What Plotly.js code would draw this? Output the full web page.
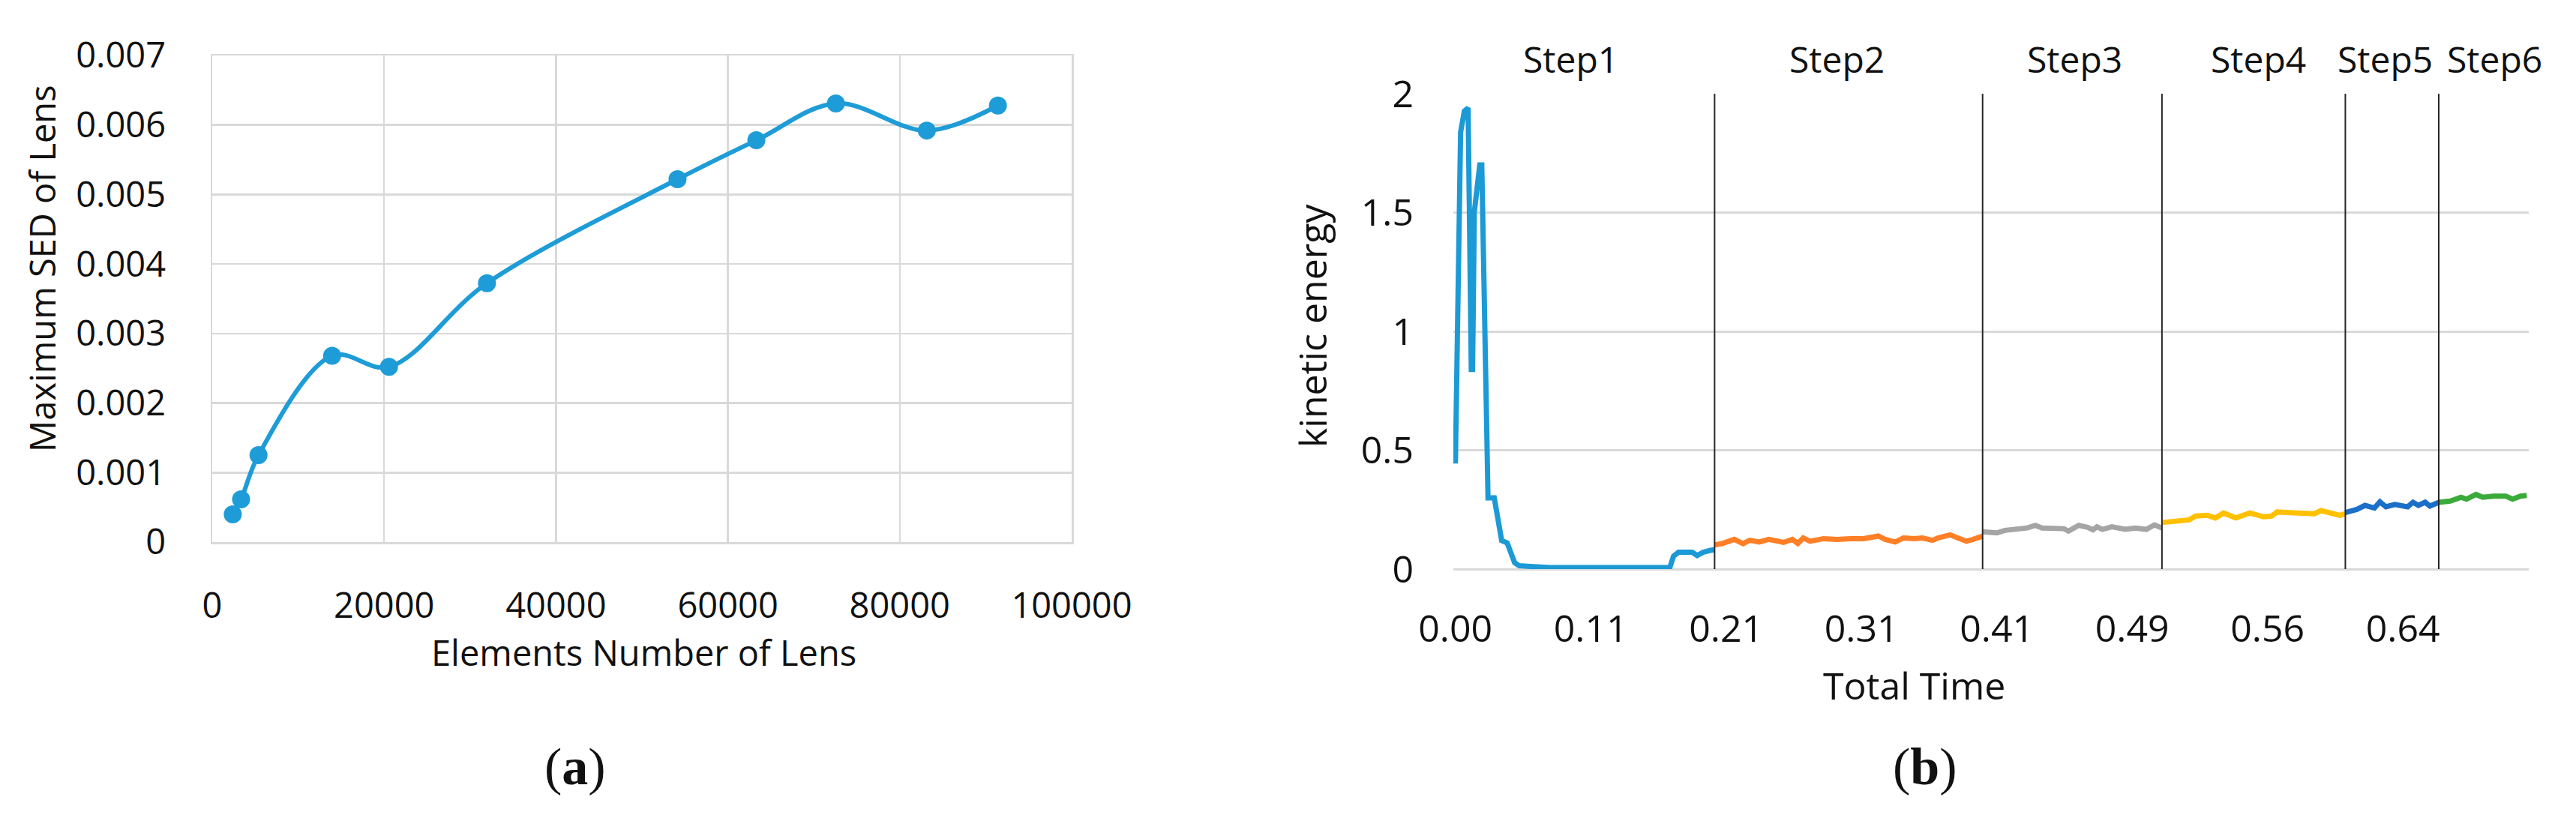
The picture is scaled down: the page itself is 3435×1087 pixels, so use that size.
<!DOCTYPE html>
<html>
<head>
<meta charset="utf-8">
<script src="https://cdn.plot.ly/plotly-3.0.1.min.js"></script>
<style>
html, body { margin: 0; padding: 0; background: #ffffff; }
#chart { width: 3435px; height: 1087px; }
</style>
</head>
<body>
<div id="chart"></div>
<script>
// ---------- Data: chart (a) ----------
const elementsNumber = [2389, 3357, 5384, 13950, 20567, 31970, 54141, 63312, 72563, 83147, 91421];
const maxSED = [0.00040, 0.000615, 0.00125, 0.00268, 0.00252, 0.003725, 0.00522, 0.00578, 0.00631, 0.00592, 0.00628];

// ---------- Data: chart (b) ----------
// x = category position (one tick label every 20 categories)
const timeLabels = ['0.00', '0.11', '0.21', '0.31', '0.41', '0.49', '0.56', '0.64'];
const stepNames = ['Step1', 'Step2', 'Step3', 'Step4', 'Step5', 'Step6'];

const step1Pos = [0, 0.77, 1.32, 1.88, 2.35, 2.54, 2.80, 3.60, 3.90, 4.82, 5.74, 6.84, 7.65, 8.75, 9.42, 11.99, 14.0, 31.68, 32.23, 32.97, 34.99, 35.72, 36.64, 37.56, 38.3];
const step1KE  = [0.444, 1.838, 1.927, 1.94, 0.84, 0.84, 1.503, 1.70, 1.70, 0.30, 0.30, 0.12, 0.11, 0.027, 0.014, 0.007, 0.006, 0.006, 0.054, 0.071, 0.071, 0.057, 0.071, 0.078, 0.082];

const step2Pos = [38.3, 39.4, 41.2, 42.5, 43.5, 44.9, 46.3, 48.5, 49.8, 50.6, 51.4, 52.4, 54.4, 56.4, 58.3, 60.3, 62.5, 63.5, 65.0, 66.2, 67.8, 69.0, 70.5, 71.3, 73.1, 74.5, 75.5, 76.5, 77.9];
const step2KE  = [0.102, 0.107, 0.125, 0.107, 0.121, 0.114, 0.125, 0.112, 0.125, 0.108, 0.131, 0.117, 0.128, 0.125, 0.128, 0.128, 0.139, 0.125, 0.114, 0.131, 0.128, 0.131, 0.121, 0.131, 0.144, 0.128, 0.117, 0.125, 0.139];

const step3Pos = [77.9, 80.0, 81.2, 83.1, 84.5, 85.7, 86.7, 89.9, 90.6, 92.1, 93.4, 94.2, 94.8, 95.6, 97.0, 99.0, 100.5, 102.1, 103.3, 104.4];
const step3KE  = [0.157, 0.152, 0.163, 0.170, 0.173, 0.184, 0.173, 0.170, 0.160, 0.184, 0.176, 0.165, 0.178, 0.167, 0.178, 0.167, 0.173, 0.167, 0.186, 0.173];

const step4Pos = [104.4, 106.4, 108.4, 109.4, 111.1, 112.3, 113.5, 115.3, 117.4, 119.4, 120.6, 121.4, 123.4, 126.9, 127.9, 129.3, 130.7, 131.5];
const step4KE  = [0.196, 0.202, 0.207, 0.223, 0.226, 0.215, 0.236, 0.215, 0.236, 0.220, 0.223, 0.240, 0.238, 0.233, 0.246, 0.238, 0.226, 0.233];

const step5Pos = [131.5, 133.2, 134.4, 135.8, 136.6, 137.5, 138.8, 140.7, 141.5, 142.3, 143.3, 144.0, 145.3];
const step5KE  = [0.238, 0.251, 0.268, 0.257, 0.283, 0.262, 0.272, 0.262, 0.281, 0.268, 0.281, 0.265, 0.281];

const step6Pos = [145.3, 147.0, 148.6, 149.4, 150.8, 151.8, 153.4, 155.2, 156.2, 157.4, 158.3];
const step6KE  = [0.281, 0.286, 0.302, 0.294, 0.314, 0.302, 0.307, 0.307, 0.294, 0.307, 0.310];

// ---------- Build ----------
const W = 3435, H = 1087;
const px = v => v / W;
const py = v => 1 - v / H;
const FONT = 'Open Sans, DejaVu Sans, sans-serif';
const SERIF = 'Liberation Serif, DejaVu Serif, serif';
const TXT = '#111111';
const GRID = '#D9D9D9';
const labelEvery = 20;
// pixel centres of the step captions above panel (b) (layout only)
const stepCaptionPx = [2094, 2449, 2766, 3011, 3180, 3326];

const stepPositions = [step1Pos, step2Pos, step3Pos, step4Pos, step5Pos, step6Pos];
const stepValues = [step1KE, step2KE, step3KE, step4KE, step5KE, step6KE];
const stepColors = ['#1C9AD6', '#FF7F27', '#A5A5A5', '#FFC000', '#1B6FC8', '#3AAA3A'];

const traces = [{
  x: elementsNumber, y: maxSED, type: 'scatter', mode: 'lines+markers',
  xaxis: 'x', yaxis: 'y',
  line: { color: '#1E9CD7', width: 6, shape: 'spline', smoothing: 1 },
  marker: { color: '#1E9CD7', size: 24 },
  showlegend: false, hoverinfo: 'skip'
}];

stepPositions.forEach((pos, i) => {
  traces.push({
    x: pos, y: stepValues[i], type: 'scatter', mode: 'lines',
    xaxis: 'x2', yaxis: 'y2',
    line: { color: stepColors[i], width: 7 },
    showlegend: false, hoverinfo: 'skip', name: stepNames[i]
  });
});

const shapes = stepPositions.slice(1).map(pos => ({
  type: 'line', xref: 'x2', yref: 'y2',
  x0: pos[0], x1: pos[0], y0: -0.01, y1: 2,
  line: { color: '#262626', width: 2 }, layer: 'above'
}));

const annotations = [
  { text: 'Maximum SED of Lens', x: px(56), y: py(358), textangle: -90, font: { size: 47 } },
  { text: 'Elements Number of Lens', x: px(858), y: py(870), font: { size: 47 } },
  { text: 'kinetic energy', x: px(1750), y: py(435), textangle: -90, font: { size: 50 } },
  { text: 'Total Time', x: px(2552), y: py(914), font: { size: 50 } },
  { text: '(<b>a</b>)', x: px(767), y: py(1022), font: { size: 70, family: SERIF } },
  { text: '(<b>b</b>)', x: px(2567), y: py(1022), font: { size: 70, family: SERIF } }
].map(a => Object.assign({ xref: 'paper', yref: 'paper', showarrow: false, xanchor: 'center', yanchor: 'middle' }, a,
  { font: Object.assign({ family: FONT, color: TXT }, a.font) }));

stepNames.forEach((name, i) => {
  annotations.push({
    text: name, xref: 'paper', yref: 'paper',
    x: px(stepCaptionPx[i]), y: py(78),
    showarrow: false, xanchor: 'center', yanchor: 'middle',
    font: { family: FONT, color: TXT, size: 48 }
  });
});

const layout = {
  width: W, height: H,
  margin: { l: 0, r: 0, t: 0, b: 0, pad: 0 },
  paper_bgcolor: '#ffffff', plot_bgcolor: '#ffffff',
  showlegend: false,
  font: { family: FONT, color: TXT },
  xaxis: {
    domain: [px(283), px(1429)], anchor: 'y',
    range: [0, 100000], dtick: 20000, tick0: 0, tickformat: 'd',
    showgrid: true, gridcolor: GRID, gridwidth: 2.5,
    showline: true, mirror: true, linecolor: GRID, linewidth: 2.5,
    zeroline: false, ticks: '', ticklabelstandoff: 42,
    tickfont: { size: 47, family: FONT, color: TXT }
  },
  yaxis: {
    domain: [py(723), py(74)], anchor: 'x',
    range: [0, 0.007], dtick: 0.001, tick0: 0,
    showgrid: true, gridcolor: GRID, gridwidth: 2.5,
    showline: true, mirror: true, linecolor: GRID, linewidth: 2.5,
    zeroline: false, ticks: '', ticklabelstandoff: 50,
    tickfont: { size: 47, family: FONT, color: TXT }
  },
  xaxis2: {
    domain: [px(1938), px(3372)], anchor: 'y2',
    range: [-0.3, 158.6],
    tickmode: 'array', tickvals: timeLabels.map((_, i) => i * labelEvery), ticktext: timeLabels,
    showgrid: false, showline: false, zeroline: false, ticks: '', ticklabelstandoff: 46,
    tickfont: { size: 50, family: FONT, color: TXT }
  },
  yaxis2: {
    domain: [py(759), py(125)], anchor: 'x2',
    range: [0, 2], dtick: 0.5, tick0: 0,
    showgrid: true, gridcolor: GRID, gridwidth: 3,
    zeroline: true, zerolinecolor: GRID, zerolinewidth: 3,
    showline: false, ticks: '', ticklabelstandoff: 52,
    tickfont: { size: 50, family: FONT, color: TXT }
  },
  shapes: shapes,
  annotations: annotations
};

Plotly.newPlot('chart', traces, layout, { staticPlot: true, displayModeBar: false });
</script>
</body>
</html>
